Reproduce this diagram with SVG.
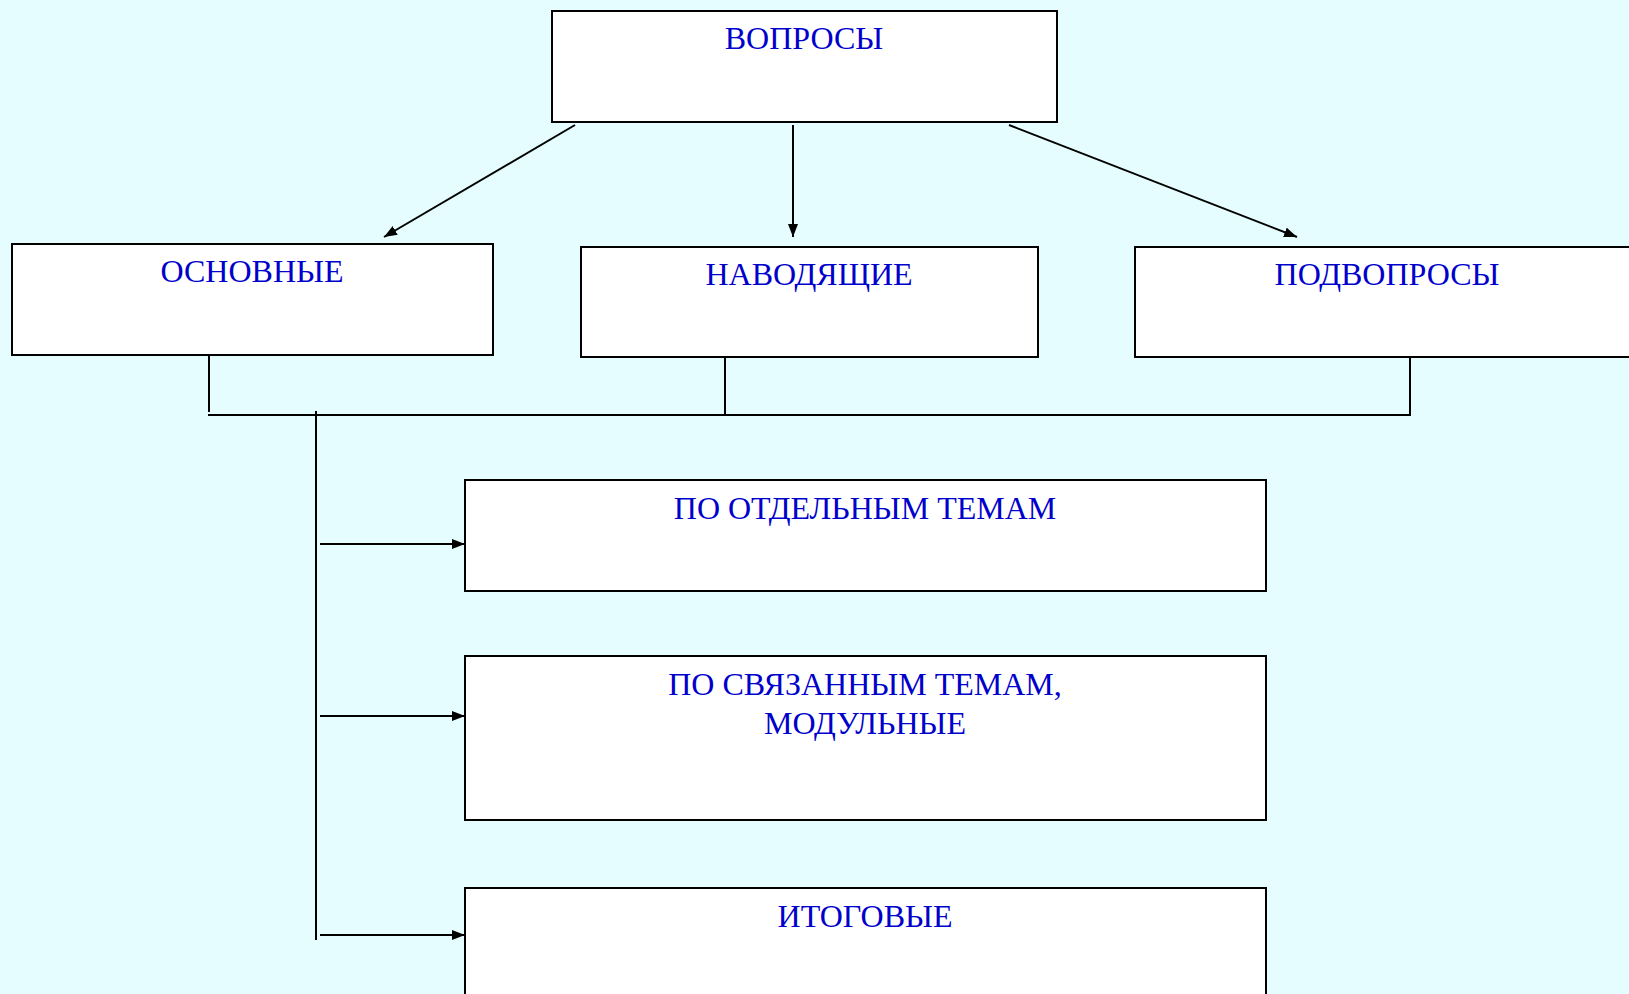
<svg xmlns="http://www.w3.org/2000/svg" width="1629" height="994" viewBox="0 0 1629 994">
  <style>
    .box { fill: #ffffff; stroke: #000000; stroke-width: 2; }
    .lbl { font-family: "Liberation Serif", "Times New Roman", serif; font-size: 32px; fill: #0000cc; text-anchor: middle; }
    .ln { stroke: #000000; stroke-width: 2; fill: none; }
    .arr { stroke: #000000; stroke-width: 2; fill: none; marker-end: url(#head); }
  </style>
  <defs>
    <marker id="head" markerUnits="userSpaceOnUse" markerWidth="14" markerHeight="11" refX="13" refY="5" orient="auto">
      <path d="M0,0 L13,5 L0,10 Z" fill="#000000"/>
    </marker>
  </defs>

  <rect x="0" y="0" width="1629" height="994" fill="#e5fdfe"/>

  <g id="node-questions">
    <rect class="box" x="552" y="11" width="505" height="111"/>
    <text class="lbl" x="804" y="49">ВОПРОСЫ</text>
  </g>

  <g id="node-main">
    <rect class="box" x="12" y="244" width="481" height="111"/>
    <text class="lbl" x="252" y="282">ОСНОВНЫЕ</text>
  </g>

  <g id="node-leading">
    <rect class="box" x="581" y="247" width="457" height="110"/>
    <text class="lbl" x="809" y="285">НАВОДЯЩИЕ</text>
  </g>

  <g id="node-sub">
    <rect class="box" x="1135" y="247" width="505" height="110"/>
    <text class="lbl" x="1387" y="285">ПОДВОПРОСЫ</text>
  </g>

  <g id="node-topics">
    <rect class="box" x="465" y="480" width="801" height="111"/>
    <text class="lbl" x="865" y="519">ПО ОТДЕЛЬНЫМ ТЕМАМ</text>
  </g>

  <g id="node-linked">
    <rect class="box" x="465" y="656" width="801" height="164"/>
    <text class="lbl" x="865" y="695">ПО СВЯЗАННЫМ ТЕМАМ,</text>
    <text class="lbl" x="865" y="734">МОДУЛЬНЫЕ</text>
  </g>

  <g id="node-final">
    <rect class="box" x="465" y="888" width="801" height="120"/>
    <text class="lbl" x="865" y="927">ИТОГОВЫЕ</text>
  </g>

  <g id="connectors">
    <!-- from the top box down to the three kinds -->
    <line class="arr" x1="575" y1="125" x2="384" y2="237"/>
    <line class="arr" x1="793" y1="125" x2="793" y2="237"/>
    <line class="arr" x1="1009" y1="125" x2="1297" y2="237"/>

    <!-- collecting bus under the three kinds -->
    <line class="ln" x1="209" y1="355" x2="209" y2="412"/>
    <line class="ln" x1="725" y1="357" x2="725" y2="415"/>
    <line class="ln" x1="1410" y1="357" x2="1410" y2="415"/>
    <line class="ln" x1="208" y1="415" x2="1411" y2="415"/>

    <!-- vertical trunk and branches to the lower boxes -->
    <line class="ln" x1="316" y1="411" x2="316" y2="940"/>
    <line class="arr" x1="320" y1="544" x2="465" y2="544"/>
    <line class="arr" x1="320" y1="716" x2="465" y2="716"/>
    <line class="arr" x1="320" y1="935" x2="465" y2="935"/>
  </g>
</svg>
